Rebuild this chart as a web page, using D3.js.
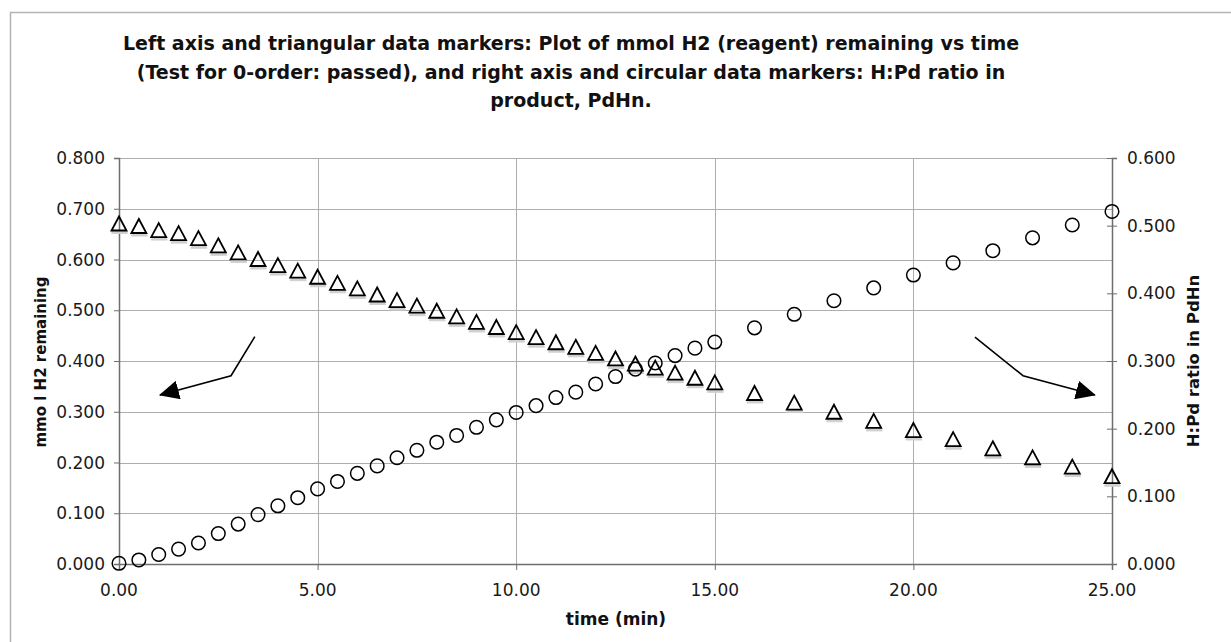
<!DOCTYPE html>
<html>
<head>
<meta charset="utf-8">
<script src="https://cdn.jsdelivr.net/npm/d3@7"></script>
<style>
  html, body { margin: 0; padding: 0; background: #fff; overflow: hidden; }
  svg { display: block; font-family: "DejaVu Sans", Verdana, sans-serif; }
</style>
</head>
<body>
<div id="chart"></div>
<script>
// Datos
const times = [0, 0.5, 1, 1.5, 2, 2.5, 3, 3.5, 4, 4.5, 5, 5.5, 6, 6.5, 7, 7.5, 8, 8.5, 9, 9.5,
               10, 10.5, 11, 11.5, 12, 12.5, 13, 13.5, 14, 14.5, 15,
               16, 17, 18, 19, 20, 21, 22, 23, 24, 25];

// mmol H2 remaining (eje izquierdo, triángulos)
const h2Remaining = [0.670, 0.665, 0.657, 0.651, 0.641, 0.627, 0.613, 0.600, 0.588, 0.577,
                     0.565, 0.553, 0.542, 0.530, 0.519, 0.508, 0.498, 0.487, 0.476, 0.466,
                     0.456, 0.446, 0.436, 0.427, 0.415, 0.404, 0.394, 0.386, 0.376, 0.366, 0.357,
                     0.336, 0.317, 0.299, 0.281, 0.263, 0.245, 0.227, 0.209, 0.191, 0.172];

// H:Pd ratio (eje derecho, círculos)
const hpdRatio = [0.001, 0.006, 0.014, 0.022, 0.031, 0.045, 0.059, 0.073, 0.086, 0.098,
                  0.111, 0.122, 0.134, 0.145, 0.157, 0.168, 0.180, 0.190, 0.202, 0.213,
                  0.224, 0.234, 0.246, 0.254, 0.266, 0.277, 0.288, 0.297, 0.308, 0.319, 0.328,
                  0.349, 0.369, 0.389, 0.408, 0.427, 0.445, 0.463, 0.482, 0.501, 0.521];

const xTicks = [0, 5, 10, 15, 20, 25];
const leftTicks = [0, 0.1, 0.2, 0.3, 0.4, 0.5, 0.6, 0.7, 0.8];
const rightTicks = [0, 0.1, 0.2, 0.3, 0.4, 0.5, 0.6];

const titleLines = [
    "Left axis and triangular data markers: Plot of mmol H2 (reagent) remaining vs time",
    "(Test for 0-order: passed), and right axis and circular data markers: H:Pd ratio in",
    "product, PdHn."
];

// Flechas en coordenadas de datos [tiempo, valor eje izquierdo]
const leftArrow = [[3.42, 0.448], [2.82, 0.371], [1.03, 0.333]];
const rightArrow = [[21.55, 0.447], [22.76, 0.371], [24.57, 0.333]];

const width = 1231;
const height = 642;
const margin = { top: 158, right: 119, bottom: 78, left: 119 };
const innerWidth = width - margin.left - margin.right;
const innerHeight = height - margin.top - margin.bottom;

const svg = d3.select("#chart").append("svg")
    .attr("width", width)
    .attr("height", height);

// Marco exterior
svg.append("path")
    .attr("d", `M10.5,${height}V12.5H${width}`)
    .attr("fill", "none")
    .attr("stroke", "#b4b4b4")
    .attr("stroke-width", 1.5);

// Título
svg.append("g").selectAll("text")
    .data(titleLines)
    .enter().append("text")
    .attr("x", 571)
    .attr("y", (d, i) => 50 + i * 28.5)
    .attr("text-anchor", "middle")
    .attr("font-size", "19px")
    .attr("font-weight", "bold")
    .attr("fill", "#111")
    .text(d => d);

const g = svg.append("g")
    .attr("transform", `translate(${margin.left}, ${margin.top})`);

const x = d3.scaleLinear().domain([0, 25]).range([0, innerWidth]);
const yLeft = d3.scaleLinear().domain([0, 0.8]).range([innerHeight, 0]);
const yRight = d3.scaleLinear().domain([0, 0.6]).range([innerHeight, 0]);

// Líneas de cuadrícula
g.append("g").selectAll("line")
    .data(leftTicks.slice(1, -1))
    .enter().append("line")
    .attr("x1", 0).attr("x2", innerWidth)
    .attr("y1", d => Math.round(yLeft(d)) + 0.5)
    .attr("y2", d => Math.round(yLeft(d)) + 0.5)
    .attr("stroke", "#adadad");

g.append("g").selectAll("line")
    .data(xTicks.slice(1, -1))
    .enter().append("line")
    .attr("y1", 0).attr("y2", innerHeight)
    .attr("x1", d => Math.round(x(d)) + 0.5)
    .attr("x2", d => Math.round(x(d)) + 0.5)
    .attr("stroke", "#adadad");

g.append("line")
    .attr("x1", 0).attr("x2", innerWidth)
    .attr("y1", 0.5).attr("y2", 0.5)
    .attr("stroke", "#adadad");

// Ejes (líneas y marcas; las etiquetas se ponen aparte)
const axisColor = "#6e6e6e";

const xAxis = g.append("g")
    .attr("transform", `translate(0, ${innerHeight})`)
    .call(d3.axisBottom(x).tickValues(xTicks).tickFormat("").tickSize(6));

const leftAxis = g.append("g")
    .call(d3.axisLeft(yLeft).tickValues(leftTicks).tickFormat("").tickSize(5));

const rightAxis = g.append("g")
    .attr("transform", `translate(${innerWidth}, 0)`)
    .call(d3.axisRight(yRight).tickValues(rightTicks).tickFormat("").tickSize(5));

[xAxis, leftAxis, rightAxis].forEach(a => {
    a.select(".domain").attr("stroke", axisColor).attr("stroke-width", 1.5);
    a.selectAll(".tick line").attr("stroke", axisColor);
    a.selectAll(".tick text").remove();
});

// Marcas del eje derecho cruzan el eje
rightAxis.selectAll(".tick line").attr("x1", -5);

// Etiquetas de los ejes
const labels = svg.append("g");

function tickLabel(sel) {
    sel.attr("font-size", "17px")
        .attr("font-family", "DejaVu Sans, Verdana, sans-serif")
        .attr("fill", "#1a1a1a");
}

labels.selectAll(".xl")
    .data(xTicks)
    .enter().append("text")
    .attr("class", "xl")
    .attr("x", d => margin.left + x(d))
    .attr("y", margin.top + innerHeight + 32)
    .attr("text-anchor", "middle")
    .call(tickLabel)
    .text(d3.format(".2f"));

labels.selectAll(".ll")
    .data(leftTicks)
    .enter().append("text")
    .attr("class", "ll")
    .attr("x", margin.left - 14)
    .attr("y", d => margin.top + yLeft(d) + 6)
    .attr("text-anchor", "end")
    .call(tickLabel)
    .text(d3.format(".3f"));

labels.selectAll(".rl")
    .data(rightTicks)
    .enter().append("text")
    .attr("class", "rl")
    .attr("x", margin.left + innerWidth + 15)
    .attr("y", d => margin.top + yRight(d) + 6)
    .attr("text-anchor", "start")
    .call(tickLabel)
    .text(d3.format(".3f"));

// Títulos de ejes
svg.append("text")
    .attr("transform", "translate(46, 362) rotate(-90)")
    .attr("text-anchor", "middle")
    .attr("font-size", "15px")
    .attr("font-weight", "bold")
    .attr("fill", "#111")
    .text("mmo l H2 remaining");

svg.append("text")
    .attr("transform", "translate(1199, 361) rotate(-90)")
    .attr("text-anchor", "middle")
    .attr("font-size", "16.5px")
    .attr("font-weight", "bold")
    .attr("fill", "#111")
    .text("H:Pd ratio in PdHn");

svg.append("text")
    .attr("x", 616)
    .attr("y", 625)
    .attr("text-anchor", "middle")
    .attr("font-size", "17px")
    .attr("font-weight", "bold")
    .attr("fill", "#111")
    .text("time (min)");

// Triángulos (con sombra)
const tri = "M0,-7.5L7.5,6.5L-7.5,6.5Z";
const triShadow = "M-6.5,6.5L-8,9.5L8,9.5L6.5,6.5";

g.append("g").selectAll("path")
    .data(times)
    .enter().append("path")
    .attr("d", triShadow)
    .attr("transform", (d, i) => `translate(${x(d) + 0.5}, ${yLeft(h2Remaining[i])})`)
    .attr("fill", "#d0d0d0")
    .attr("stroke", "#d0d0d0")
    .attr("stroke-width", 1);

g.append("g").selectAll("path")
    .data(times)
    .enter().append("path")
    .attr("d", tri)
    .attr("transform", (d, i) => `translate(${x(d)}, ${yLeft(h2Remaining[i])})`)
    .attr("fill", "none")
    .attr("stroke", "#000")
    .attr("stroke-width", 1.8)
    .attr("stroke-linejoin", "miter");

// Círculos
g.append("g").selectAll("circle")
    .data(times)
    .enter().append("circle")
    .attr("cx", d => x(d))
    .attr("cy", (d, i) => yRight(hpdRatio[i]))
    .attr("r", 6.8)
    .attr("fill", "none")
    .attr("stroke", "#000")
    .attr("stroke-width", 1.5);

// Flechas
svg.append("defs").append("marker")
    .attr("id", "arrowhead")
    .attr("viewBox", "0 0 20 19")
    .attr("refX", 19)
    .attr("refY", 9.5)
    .attr("markerWidth", 20)
    .attr("markerHeight", 19)
    .attr("markerUnits", "userSpaceOnUse")
    .attr("orient", "auto")
    .append("path")
    .attr("d", "M0,0L20,9.5L0,19Z")
    .attr("fill", "#000");

const arrowLine = d3.line()
    .x(d => x(d[0]))
    .y(d => yLeft(d[1]));

[leftArrow, rightArrow].forEach(a => {
    g.append("path")
        .datum(a)
        .attr("d", arrowLine)
        .attr("fill", "none")
        .attr("stroke", "#000")
        .attr("stroke-width", 1.6)
        .attr("marker-end", "url(#arrowhead)");
});
</script>
</body>
</html>
